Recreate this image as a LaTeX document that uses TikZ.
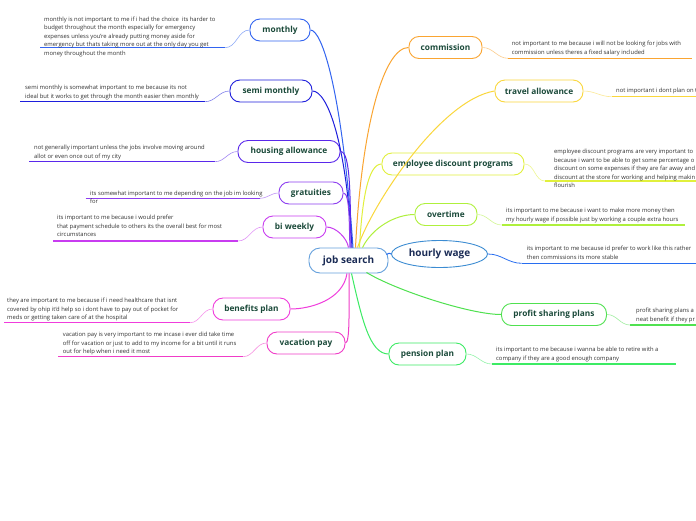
\documentclass[tikz,border=0pt]{standalone}
\usepackage{fontspec}
\setmainfont{Open Sans}
\usetikzlibrary{shapes.geometric,calc}
\definecolor{cMonthly}{RGB}{50,100,240}
\definecolor{cSemi}{RGB}{30,30,220}
\definecolor{cHousing}{RGB}{90,40,235}
\definecolor{cGrat}{RGB}{140,60,240}
\definecolor{cBiw}{RGB}{200,60,240}
\definecolor{cBen}{RGB}{240,60,220}
\definecolor{cVac}{RGB}{240,60,200}
\definecolor{cComm}{RGB}{250,165,50}
\definecolor{cTrav}{RGB}{250,215,60}
\definecolor{cEmp}{RGB}{225,240,60}
\definecolor{cOver}{RGB}{175,240,60}
\definecolor{cHour}{RGB}{40,110,240}
\definecolor{cHourB}{RGB}{60,140,210}
\definecolor{cProf}{RGB}{80,225,80}
\definecolor{cPens}{RGB}{60,235,100}
\definecolor{cRoot}{RGB}{100,160,220}
\definecolor{topictext}{RGB}{27,74,58}
\definecolor{roottext}{RGB}{26,43,85}
\definecolor{desctext}{RGB}{50,50,50}
\tikzset{
  topic/.style={draw=#1, line width=0.9pt, rounded corners=10pt,
    minimum height=22pt, inner sep=0pt, text=topictext,
    font=\bfseries\fontsize{8.3}{9}\selectfont},
  desc/.style={anchor=north west, inner sep=0pt, align=left, text=desctext,
    font=\fontsize{5.85}{8.5}\selectfont},
  branch/.style={draw=#1, line width=1pt},
  uline/.style={draw=#1, line width=1.3pt},
  dconn/.style={draw=#1!55!white, line width=0.6pt},
}
\begin{document}
\begin{tikzpicture}[x=1pt,y=-1pt]
\useasboundingbox (0,0) rectangle (696,520);
\fill[white] (0,0) rectangle (696,520);
\clip (0,0) rectangle (696,520);

% ---------- nodes ----------
\node[draw=cRoot, line width=0.9pt, rounded corners=11pt, minimum width=79pt,
  minimum height=25pt, inner sep=0pt, text=roottext, font=\bfseries\fontsize{10}{11}\selectfont]
  (js) at (348.5,260.5) {job search};

\node[topic=cMonthly, minimum width=60pt] (monthly) at (280,30) {monthly};
\node[topic=cSemi, minimum width=82pt] (semi) at (271,91) {semi monthly};
\node[topic=cHousing, minimum width=102pt] (housing) at (289,151.5) {housing allowance};
\node[topic=cGrat, minimum width=64pt] (grat) at (311,193) {gratuities};
\node[topic=cBiw, minimum width=63pt] (biw) at (294.5,227) {bi weekly};
\node[topic=cBen, minimum width=77pt] (ben) at (251.5,309) {benefits plan};
\node[topic=cVac, minimum width=78pt] (vac) at (306,343) {vacation pay};
\node[topic=cComm, minimum width=73pt] (comm) at (445.5,47.5) {commission};
\node[topic=cTrav, minimum width=88pt] (trav) at (539,91) {travel allowance};
\node[topic=cEmp, minimum width=142pt] (emp) at (453,164) {employee discount programs};
\node[topic=cOver, minimum width=62pt] (over) at (446,214.5) {overtime};
\node[draw=cHourB, ellipse, line width=0.9pt, minimum width=96pt, minimum height=27pt,
  inner sep=0pt, text=roottext, font=\bfseries\fontsize{10}{11}\selectfont]
  (hw) at (439.5,254) {hourly wage};
\node[topic=cProf, minimum width=105pt] (prof) at (554,314.5) {profit sharing plans};
\node[topic=cPens, minimum width=77pt] (pens) at (427.5,354) {pension plan};

% ---------- root connectors ----------
\draw[branch=cMonthly] ($(js.north)+(4.5,0)$) .. controls (342,90) and (322,30) .. (monthly.east);
\draw[branch=cSemi] ($(js.north)+(3.5,0)$) .. controls (346,140) and (327,91) .. (semi.east);
\draw[branch=cHousing] ($(js.north)+(2.5,0)$) .. controls (350,200) and (351,151.5) .. (housing.east);
\draw[branch=cGrat] ($(js.north)+(1.5,0)$) .. controls (349,225) and (350,193) .. (grat.east);
\draw[branch=cBiw] ($(js.north)+(0,0)$) .. controls (347,238) and (336,227) .. (biw.east);
\draw[branch=cBen] ($(js.south)+(-1.5,0)$) .. controls (343,300) and (310,309) .. (ben.east);
\draw[branch=cVac] ($(js.south)+(0.5,0)$) .. controls (349,310) and (350,343) .. (vac.east);
\draw[branch=cComm] ($(js.north)+(7,0)$) .. controls (362,120) and (385,47.5) .. (comm.west);
\draw[branch=cTrav] ($(js.north)+(9,0)$) .. controls (372,205) and (440,100) .. (trav.west);
\draw[branch=cEmp] ($(js.north)+(11,0)$) .. controls (362,200) and (368,164) .. (emp.west);
\draw[branch=cOver] ($(js.north)+(14,0)$) .. controls (372,228) and (395,214.5) .. (over.west);
\draw[branch=cHour] ($(js.east)+(-2,-6)$) .. controls (391,252) and (388,254) .. (hw.west);
\draw[branch=cProf] ($(js.south)+(18,-1)$) .. controls (395,290) and (470,314.5) .. (prof.west);
\draw[branch=cPens] ($(js.south)+(3,0)$) .. controls (362,320) and (370,354) .. (pens.west);

% ---------- descriptions ----------
% monthly
\coordinate (mA) at (40,47.7); \coordinate (mB) at (225,47.7);
\draw[uline=cMonthly] (mA) -- (mB);
\draw[dconn=cMonthly] (monthly.west) to[out=180,in=0] (mB);
\node[desc] (dmonthly) at (44,16.5) {monthly is not important to me if i had the choice\ \ its harder to\\budget throughout the month especially for emergency\\expenses unless you're already putting money aside for\\emergency but thats taking more out at the only day you get\\money throughout the month};
% semi monthly
\coordinate (sA) at (20,101.7); \coordinate (sB) at (205,101.7);
\draw[uline=cSemi] (sA) -- (sB);
\draw[dconn=cSemi] (semi.west) to[out=180,in=0] (sB);
\node[desc] (dsemi) at (25,85) {semi monthly is somewhat important to me because its not\\ideal but it works to get through the month easier then monthly};
% housing
\coordinate (hA) at (29,161.7); \coordinate (hB) at (215,161.7);
\draw[uline=cHousing] (hA) -- (hB);
\draw[dconn=cHousing] (housing.west) to[out=180,in=0] (hB);
\node[desc] (dhousing) at (34,145) {not generally important unless the jobs involve moving around\\allot or even once out of my city};
% gratuities
\coordinate (gA) at (85.7,198.3); \coordinate (gB) at (260,198.3);
\draw[uline=cGrat] (gA) -- (gB);
\draw[dconn=cGrat] (grat.west) to[out=180,in=0] (gB);
\node[desc] (dgrat) at (90,190.5) {its somewhat important to me depending on the job im looking\\for};
% bi weekly
\coordinate (bA) at (53,241); \coordinate (bB) at (238,241);
\draw[uline=cBiw] (bA) -- (bB);
\draw[dconn=cBiw] (biw.west) to[out=180,in=0] (bB);
\node[desc] (dbiw) at (57,215) {its important to me because i would prefer\\that payment schedule to others its the overall best for most\\circumstances};
% benefits
\coordinate (eA) at (4,322.7); \coordinate (eB) at (190,322.7);
\draw[uline=cBen] (eA) -- (eB);
\draw[dconn=cBen] (ben.west) to[out=180,in=0] (eB);
\node[desc] (dben) at (7,298) {they are important to me because if i need healthcare that isnt\\covered by ohip it'd help so i dont have to pay out of pocket for\\meds or getting taken care of at the hospital};
% vacation
\coordinate (vA) at (58,356.7); \coordinate (vB) at (243,356.7);
\draw[uline=cVac] (vA) -- (vB);
\draw[dconn=cVac] (vac.west) to[out=180,in=0] (vB);
\node[desc] (dvac) at (62.7,332) {vacation pay is very important to me incase i ever did take time\\off for vacation or just to add to my income for a bit until it runs\\out for help when i need it most};
% commission
\coordinate (cA) at (508,58.3); \coordinate (cB) at (692,58.3);
\draw[uline=cComm] (cA) -- (cB);
\draw[dconn=cComm] (comm.east) to[out=0,in=180] (cA);
\node[desc] (dcomm) at (511.7,41) {not important to me because i will not be looking for jobs with\\commission unless theres a fixed salary included};
% travel
\coordinate (tA) at (611.7,96.7); \coordinate (tB) at (700,96.7);
\draw[uline=cTrav] (tA) -- (tB);
\draw[dconn=cTrav] (trav.east) to[out=0,in=180] (tA);
\node[desc] (dtrav) at (616,88) {not important i dont plan on t};
% employee discount
\coordinate (pA) at (545,181); \coordinate (pB) at (700,181);
\draw[uline=cEmp] (pA) -- (pB);
\draw[dconn=cEmp] (emp.east) to[out=0,in=180] (pA);
\node[desc] (demp) at (554,149) {employee discount programs are very important to\\because i want to be able to get some percentage o\\discount on some expenses if they are far away and\\discount at the store for working and helping makin\\flourish};
% overtime
\coordinate (oA) at (501.7,225); \coordinate (oB) at (685,225);
\draw[uline=cOver] (oA) -- (oB);
\draw[dconn=cOver] (over.east) to[out=0,in=180] (oA);
\node[desc] (dover) at (506,208) {its important to me because i want to make more money then\\my hourly wage if possible just by working a couple extra hours};
% hourly wage
\coordinate (wA) at (521.7,263.3); \coordinate (wB) at (700,263.3);
\draw[uline=cHour] (wA) -- (wB);
\draw[draw=cHour, line width=0.8pt] (hw.east) to[out=0,in=180] (wA);
\node[desc] (dhw) at (526.7,246) {its important to me because id prefer to work like this rather\\then commissions its more stable};
% profit sharing
\coordinate (fA) at (630,325); \coordinate (fB) at (700,325);
\draw[uline=cProf] (fA) -- (fB);
\draw[dconn=cProf] (prof.east) to[out=0,in=180] (fA);
\node[desc] (dprof) at (636,308) {profit sharing plans a\\neat benefit if they pr};
% pension
\coordinate (nA) at (491.7,364); \coordinate (nB) at (676,364);
\draw[uline=cPens] (nA) -- (nB);
\draw[dconn=cPens] (pens.east) to[out=0,in=180] (nA);
\node[desc] (dpens) at (496,347) {its important to me because i wanna be able to retire with a\\company if they are a good enough company};
\end{tikzpicture}
\end{document}
